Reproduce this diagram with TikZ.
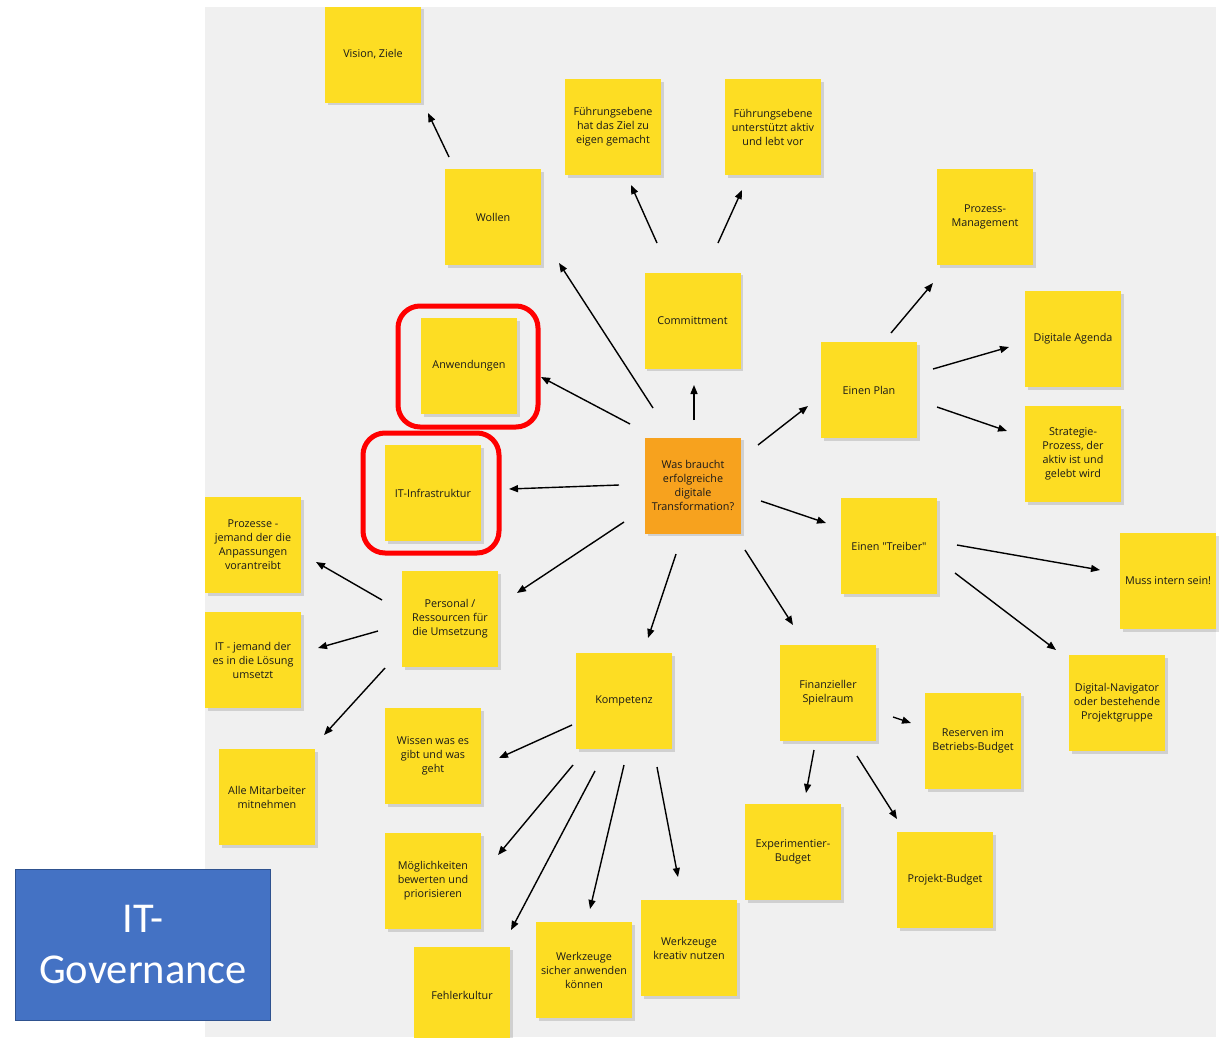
\documentclass[tikz,border=0pt]{standalone}
\usepackage{fontspec}
\setmainfont{Open Sans}
\newfontfamily\govfont{Carlito}
\usetikzlibrary{arrows.meta,shadows}
\definecolor{noteY}{RGB}{253,221,35}
\definecolor{noteO}{RGB}{247,162,30}
\definecolor{bgG}{RGB}{240,240,240}
\definecolor{govB}{RGB}{68,114,196}
\definecolor{govD}{RGB}{47,82,143}
\definecolor{hiR}{RGB}{255,0,0}
\tikzset{
  note/.style={fill=noteY, minimum width=96pt, minimum height=96pt, inner sep=2pt,
    align=center, font=\fontsize{10.8}{14}\selectfont, text=black!90,
    drop shadow={shadow xshift=2.5pt, shadow yshift=-2.5pt, fill=black, opacity=0.13}},
  center note/.style={note, fill=noteO},
  arr/.style={draw=black, line width=1.4pt, -{Triangle[length=9pt,width=7pt]}},
  hilite/.style={draw=hiR, line width=5pt, rounded corners=22pt},
}
\begin{document}
\begin{tikzpicture}[x=1pt,y=-1pt]
\useasboundingbox (0,0) rectangle (1223,1037);
\fill[bgG] (205,7) rectangle (1216,1037);

% notes
\node[note] (vis) at (373,54.5) {Vision, Ziele};
\node[note] (wol) at (493,217) {Wollen};
\node[note] (fz1) at (613,127) {Führungsebene\\hat das Ziel zu\\eigen gemacht};
\node[note] (fz2) at (773,127) {Führungsebene\\unterstützt aktiv\\und lebt vor};
\node[note] (com) at (692.5,320.5) {Committment};
\node[note] (pm) at (985,217) {Prozess-\\Management};
\node[note] (plan) at (869,390) {Einen Plan};
\node[note] (da) at (1073,339) {Digitale Agenda};
\node[note] (sp) at (1073,454) {Strategie-\\Prozess, der\\aktiv ist und\\gelebt wird};
\node[note] (anw) at (469,366) {Anwendungen};
\node[note] (iti) at (433,493) {IT-Infrastruktur};
\node[center note] (ctr) at (693,485.5) {Was braucht\\erfolgreiche\\digitale\\Transformation?};
\node[note] (tr) at (889,546) {Einen \textquotedbl Treiber\textquotedbl};
\node[note] (mis) at (1168,581) {Muss intern sein!};
\node[note] (pro) at (253,545) {Prozesse -\\jemand der die\\Anpassungen\\vorantreibt};
\node[note] (per) at (450,619) {Personal /\\Ressourcen für\\die Umsetzung};
\node[note] (itj) at (253,660) {IT - jemand der\\es in die Lösung\\umsetzt};
\node[note] (alle) at (267,797) {Alle Mitarbeiter\\mitnehmen};
\node[note] (wis) at (433,756) {Wissen was es\\gibt und was\\geht};
\node[note] (kom) at (624,701) {Kompetenz};
\node[note] (fin) at (828,693) {Finanzieller\\Spielraum};
\node[note] (dn) at (1117,703) {Digital-Navigator\\oder bestehende\\Projektgruppe};
\node[note] (res) at (973,741) {Reserven im\\Betriebs-Budget};
\node[note] (exp) at (793,852) {Experimentier-\\Budget};
\node[note] (prj) at (945,880) {Projekt-Budget};
\node[note] (mog) at (433,881) {Möglichkeiten\\bewerten und\\priorisieren};
\node[note] (feh) at (462,995) {Fehlerkultur};
\node[note] (ws) at (584,970) {Werkzeuge\\sicher anwenden\\können};
\node[note] (wk) at (689,948) {Werkzeuge\\kreativ nutzen};

% highlights
\draw[hilite] ([shift={(-71,-60)}]anw.center) rectangle ([shift={(69,61)}]anw.center);
\draw[hilite] ([shift={(-70,-60)}]iti.center) rectangle ([shift={(66,60)}]iti.center);

% arrows
\draw[arr] ([shift={(-44,-60)}]wol.center) -- ([shift={(55,58.5)}]vis.center);
\draw[arr] ([shift={(-35.5,-77.5)}]com.center) -- ([shift={(18,58)}]fz1.center);
\draw[arr] ([shift={(25.5,-77.5)}]com.center) -- ([shift={(-31,63)}]fz2.center);
\draw[arr] ([shift={(-40,-77.5)}]ctr.center) -- ([shift={(66,46)}]wol.center);
\draw[arr] ([shift={(1,-65.5)}]ctr.center) -- ([shift={(1.5,64.5)}]com.center);
\draw[arr] ([shift={(-63,-61.5)}]ctr.center) -- ([shift={(72,11)}]anw.center);
\draw[arr] ([shift={(-74,-0.5)}]ctr.center) -- ([shift={(76,-4)}]iti.center);
\draw[arr] ([shift={(65,-40.5)}]ctr.center) -- ([shift={(-61,16)}]plan.center);
\draw[arr] ([shift={(22,-57)}]plan.center) -- ([shift={(-52,66)}]pm.center);
\draw[arr] ([shift={(64,-21)}]plan.center) -- ([shift={(-64,8)}]da.center);
\draw[arr] ([shift={(68,17)}]plan.center) -- ([shift={(-66,-23)}]sp.center);
\draw[arr] ([shift={(68,15.5)}]ctr.center) -- ([shift={(-63,-23)}]tr.center);
\draw[arr] ([shift={(68,-1)}]tr.center) -- ([shift={(-68,-11)}]mis.center);
\draw[arr] ([shift={(66,27)}]tr.center) -- ([shift={(-61,-53)}]dn.center);
\draw[arr] ([shift={(52,64.5)}]ctr.center) -- ([shift={(-35,-68)}]fin.center);
\draw[arr] ([shift={(-17,68.5)}]ctr.center) -- ([shift={(24,-63)}]kom.center);
\draw[arr] ([shift={(-69,36.5)}]ctr.center) -- ([shift={(67,-26)}]per.center);
\draw[arr] ([shift={(-68,-19)}]per.center) -- ([shift={(63,17)}]pro.center);
\draw[arr] ([shift={(-72,12)}]per.center) -- ([shift={(65,-12)}]itj.center);
\draw[arr] ([shift={(-65,49)}]per.center) -- ([shift={(57,-62)}]alle.center);
\draw[arr] ([shift={(-52,24)}]kom.center) -- ([shift={(66,2)}]wis.center);
\draw[arr] ([shift={(-51,64)}]kom.center) -- ([shift={(65,-26)}]mog.center);
\draw[arr] ([shift={(-29,70)}]kom.center) -- ([shift={(49,-65)}]feh.center);
\draw[arr] ([shift={(0,64)}]kom.center) -- ([shift={(6,-61)}]ws.center);
\draw[arr] ([shift={(33,66)}]kom.center) -- ([shift={(-11,-71)}]wk.center);
\draw[arr] ([shift={(65,24)}]fin.center) -- ([shift={(-62,-18)}]res.center);
\draw[arr] ([shift={(-14,57)}]fin.center) -- ([shift={(13,-59)}]exp.center);
\draw[arr] ([shift={(29,63)}]fin.center) -- ([shift={(-48,-61)}]prj.center);

% IT-Governance box
\node[fill=govB, draw=govD, line width=1.5pt, minimum width=255pt, minimum height=151pt,
  align=center, text=white, font=\govfont\fontsize{42.5}{51}\selectfont] (gov) at (143,945) {IT-\\Governance};
\end{tikzpicture}
\end{document}
